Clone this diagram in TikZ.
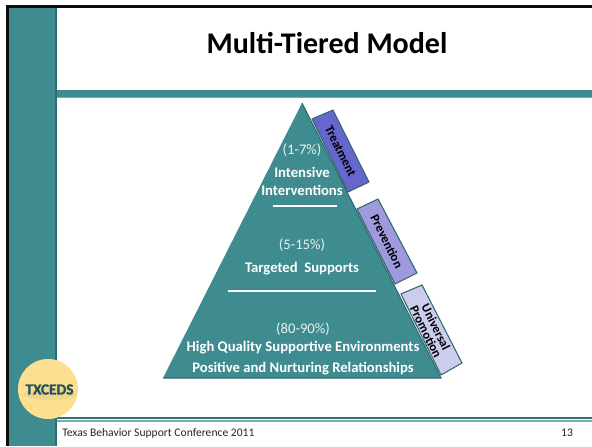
\documentclass[tikz,border=0pt]{standalone}
\usepackage{fontspec}
\setmainfont{Carlito}
\usepackage{tikz}
\definecolor{slideteal}{HTML}{3F8C90}
\definecolor{edgeteal}{HTML}{2F6A70}
\definecolor{lightteal}{HTML}{6FB0B2}
\definecolor{treatfill}{HTML}{6666CC}
\definecolor{prevfill}{HTML}{9F99DD}
\definecolor{univfill}{HTML}{CCCCEC}
\definecolor{badge}{HTML}{FDE08F}
\definecolor{badgetext}{HTML}{24505A}
\begin{document}
\begin{tikzpicture}[x=0.75pt, y=-0.75pt,
		tier/.style={text=white, font=\fontsize{11}{13}\selectfont\bfseries, inner sep=0pt, align=center},
		pct/.style={text=white!88!slideteal, font=\fontsize{11}{13}\selectfont, inner sep=0pt},
		tab/.style={draw=edgeteal, line width=0.8pt},
		tablabel/.style={font=\fontsize{9.5}{8.4}\selectfont\bfseries, rotate=-63.4, inner sep=0pt, align=center},
		rulew/.style={draw=white, line width=1.9pt}]
		\useasboundingbox (0,0) rectangle (592,446);
		
		% Slide frame
		\fill[slideteal] (9,8) rectangle (55,446);
		\fill[edgeteal] (55,8) rectangle (57,446);
		\fill[black!95] (6,5) rectangle (592,8);
		\fill[black!95] (6,5) rectangle (9,446);
		\fill[slideteal] (57,90) rectangle (592,97.5);
		\fill[lightteal] (57,97) rectangle (592,98);
		\fill[edgeteal!80!slideteal] (57,417) rectangle (592,418.8);
		\fill[lightteal] (57,420) rectangle (592,421.6);
		
		\node (title) [font=\fontsize{22.5}{26}\selectfont\bfseries, inner sep=0pt] at (327,43.5) {Multi-Tiered Model};
		
		% Side tabs
		\coordinate (t1) at (312,119);
		\coordinate (t2) at (333,110);
		\coordinate (t3) at (369,182);
		\coordinate (t4) at (348,192);
		\coordinate (p1) at (357,209);
		\coordinate (p2) at (378,199);
		\coordinate (p3) at (417,273);
		\coordinate (p4) at (395,284);
		\coordinate (u1) at (401,294);
		\coordinate (u2) at (422,285);
		\coordinate (u3) at (462,363);
		\coordinate (u4) at (441,375);
		\draw[tab, fill=treatfill] (t1) -- (t2) -- (t3) -- (t4) -- cycle;
		\draw[tab, fill=prevfill] (p1) -- (p2) -- (p3) -- (p4) -- cycle;
		\draw[tab, fill=univfill] (u1) -- (u2) -- (u3) -- (u4) -- cycle;
		\node (treatment) [tablabel] at (340.5,151) {Treatment};
		\node (prevention) [tablabel] at (387,241.5) {Prevention};
		\node (universal) [tablabel] at (431,329.5) {Universal\\Promotion};
		
		% Pyramid
		\coordinate (apex) at (302,103);
		\coordinate (baseL) at (163,378);
		\coordinate (baseR) at (441,378);
		\fill[slideteal] (apex) -- (baseR) -- (baseL) -- cycle;
		\draw[edgeteal, line width=0.8pt] (apex) -- (baseR) -- (baseL);
		
		\coordinate (r1a) at (273,206);
		\coordinate (r1b) at (337,206);
		\coordinate (r2a) at (228,291);
		\coordinate (r2b) at (376,291);
		\draw[rulew] (r1a) -- (r1b);
		\draw[rulew] (r2a) -- (r2b);
		
		\node (p1text) [pct] at (302,150) {(1-7\%)};
		\node (intensive) [tier] at (302,172.5) {Intensive};
		\node (interv) [tier] at (302,190.5) {Interventions};
		\node (p2text) [pct] at (302,245) {(5-15\%)};
		\node (targeted) [tier] at (302,269) {Targeted\ \ Supports};
		\node (p3text) [pct] at (303,329) {(80-90\%)};
		\node (quality) [tier] at (303,348) {High Quality Supportive Environments};
		\node (positive) [tier] at (303,368.5) {Positive and Nurturing Relationships};
		
		% Badge and footer
		\node (badge) [circle, fill=badge, minimum size=45pt, inner sep=0pt] at (48,389) {};
		\fill[badgetext, opacity=0.07] (50,394) ellipse (26 and 6);
		\node (txceds) [text=badgetext, font=\fontsize{11.5}{13}\selectfont\bfseries\addfontfeature{FakeBold=1.2}, inner sep=0pt] at (49.5,389.5) {TXCEDS};
		\node (footer) [anchor=west, font=\fontsize{8.7}{10}\selectfont, text=black!85, inner sep=0pt] at (62,433) {Texas Behavior Support Conference 2011};
		\node (pagenum) [font=\fontsize{8.7}{10}\selectfont, text=black!85, inner sep=0pt] at (567,433) {13};
		
	\end{tikzpicture}
\end{document}
